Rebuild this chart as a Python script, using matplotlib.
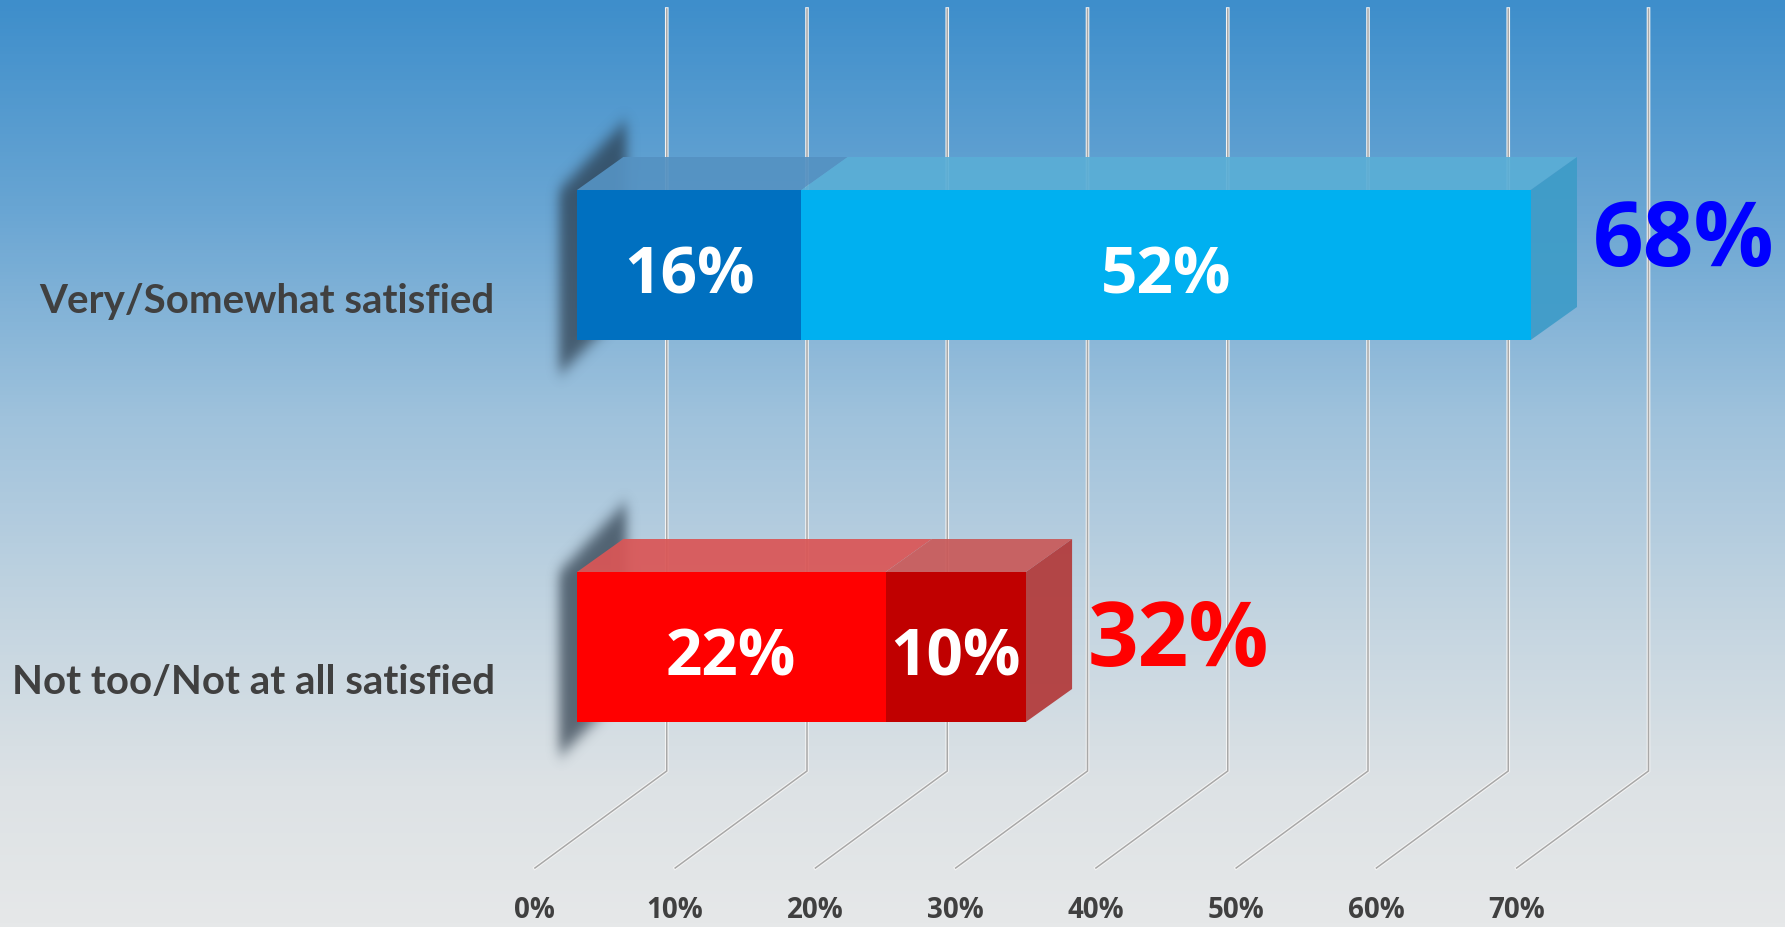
import numpy as np
import matplotlib
matplotlib.use('Agg')
import matplotlib.pyplot as plt
from matplotlib.patches import Polygon
from matplotlib.path import Path
from matplotlib.colors import LinearSegmentedColormap

# data
categories = ['Very/Somewhat satisfied', 'Not too/Not at all satisfied']
seg1 = [16, 22]          # Very satisfied / Not too satisfied
seg2 = [52, 10]          # Somewhat satisfied / Not at all satisfied
totals = [68, 32]
tick_vals = [0, 10, 20, 30, 40, 50, 60, 70]
tick_labels = ['0%', '10%', '20%', '30%', '40%', '50%', '60%', '70%']

seg1_colors = ['#0070C0', '#FF0000']
seg2_colors = ['#00B0F0', '#C00000']
top1_colors = ['#5592C2', '#DA5656']
top2_colors = ['#5AAED6', '#C95A5A']
side_colors = ['#3E9CC8', '#B23A3A']
total_colors = ['#0000FF', '#FF0000']

# layout (x in percent on the front plane, y in pixels from top)
W, H = 1785, 927
X0 = 577.0           # pixel of 0% on bar front face
PX = 14.025          # pixels per percent
BACK = 6.4           # back wall offset (percent)
FLOOR = -3.0         # floor front edge offset (percent)
DX, DY = 3.3, -33    # bar depth
bar_y = [265, 647]
bar_h = 150
total_dy = [-22, -4]


def blur1d(a, sigma, axis):
    r = int(3 * sigma)
    k = np.exp(-0.5 * (np.arange(-r, r + 1) / sigma) ** 2)
    k /= k.sum()
    return np.apply_along_axis(lambda v: np.convolve(v, k, mode='same'), axis, a)


fig = plt.figure(figsize=(W / 100, H / 100), dpi=100)
ax = fig.add_axes([0, 0, 1, 1])
xmin, xmax = -X0 / PX, (W - X0) / PX
ax.set_xlim(xmin, xmax)
ax.set_ylim(H, 0)
ax.axis('off')

# background gradient
cmap = LinearSegmentedColormap.from_list('bg', [
    (0.0, '#3E8ECB'), (0.22, '#68A5D3'), (0.45, '#9FC2DC'),
    (0.68, '#C6D6E1'), (0.85, '#DDE2E5'), (1.0, '#E6E8E9')])
grad = np.linspace(0, 1, 256).reshape(-1, 1)
ax.imshow(grad, cmap=cmap, aspect='auto', extent=(xmin, xmax, H, 0), zorder=0)

# gridlines: back wall + floor
for t in tick_vals:
    xs = [t + BACK, t + BACK, t + FLOOR]
    ys = [9, 771, 868]
    ax.plot(xs, ys, color='#F4F4F4', lw=2.6, zorder=1, solid_joinstyle='miter')
    ax.plot(xs, ys, color='#A8A8A8', lw=1.1, zorder=1.1, solid_joinstyle='miter')

for t, lab in zip(tick_vals, tick_labels):
    ax.text(t + FLOOR, 910, lab, ha='center', va='center', fontsize=20,
            fontweight='bold', color='#404040', family='Open Sans', zorder=5)

for i in range(len(categories)):
    yc = bar_y[i]
    top, bot = yc - bar_h / 2, yc + bar_h / 2

    # blurred shadow at the left end
    ex = (-6.0, 9.0, bot + 90, top - 100)
    gx = np.linspace(ex[0], ex[1], 220)
    gy = np.linspace(ex[3], ex[2], 320)
    GX, GY = np.meshgrid(gx, gy)
    shape = Path([(-1.3, top + 0), (DX + 0.2, top + DY - 38), (DX + 0.2, bot + DY),
                  (-1.3, bot + 35)])
    mask = shape.contains_points(np.c_[GX.ravel(), GY.ravel()]).reshape(GX.shape).astype(float)
    mask = blur1d(blur1d(mask, 7, 0), 6, 1)
    rgba = np.zeros(mask.shape + (4,))
    rgba[..., 0], rgba[..., 1], rgba[..., 2] = 0.15, 0.21, 0.27
    rgba[..., 3] = mask * 0.7
    ax.imshow(rgba, extent=(ex[0], ex[1], ex[2], ex[3]), aspect='auto', zorder=2, interpolation='bilinear')

    # front faces
    ax.barh(yc, seg1[i], left=0, height=bar_h, color=seg1_colors[i], zorder=4)
    ax.barh(yc, seg2[i], left=seg1[i], height=bar_h, color=seg2_colors[i], zorder=4)

    # top faces
    for x_a, x_b, c in [(0, seg1[i], top1_colors[i]), (seg1[i], totals[i], top2_colors[i])]:
        ax.add_patch(Polygon([(x_a, top), (x_a + DX, top + DY), (x_b + DX, top + DY), (x_b, top)],
                             closed=True, facecolor=c, edgecolor='none', alpha=0.93, zorder=3.5))
    # right side face
    ax.add_patch(Polygon([(totals[i], top), (totals[i] + DX, top + DY), (totals[i] + DX, bot + DY),
                          (totals[i], bot)], closed=True, facecolor=side_colors[i],
                         edgecolor='none', alpha=0.93, zorder=3.5))

    # segment labels
    ax.text(seg1[i] / 2, yc + 12, '%d%%' % seg1[i], ha='center', va='center', fontsize=46,
            fontweight='bold', color='white', family='Open Sans', zorder=6)
    ax.text(seg1[i] + seg2[i] / 2, yc + 12, '%d%%' % seg2[i], ha='center', va='center', fontsize=46,
            fontweight='bold', color='white', family='Open Sans', zorder=6)

    # totals
    ax.text(totals[i] + DX + 1.1, yc + total_dy[i], '%d%%' % totals[i], ha='left', va='center',
            fontsize=64, fontweight='bold', color=total_colors[i], family='Open Sans', zorder=6)

    # category label
    ax.text(-5.85, yc + 36, categories[i], ha='right', va='center', fontsize=29,
            fontweight='bold', color='#404040', family='Lato', zorder=6)

fig.savefig('out.png', dpi=100)
